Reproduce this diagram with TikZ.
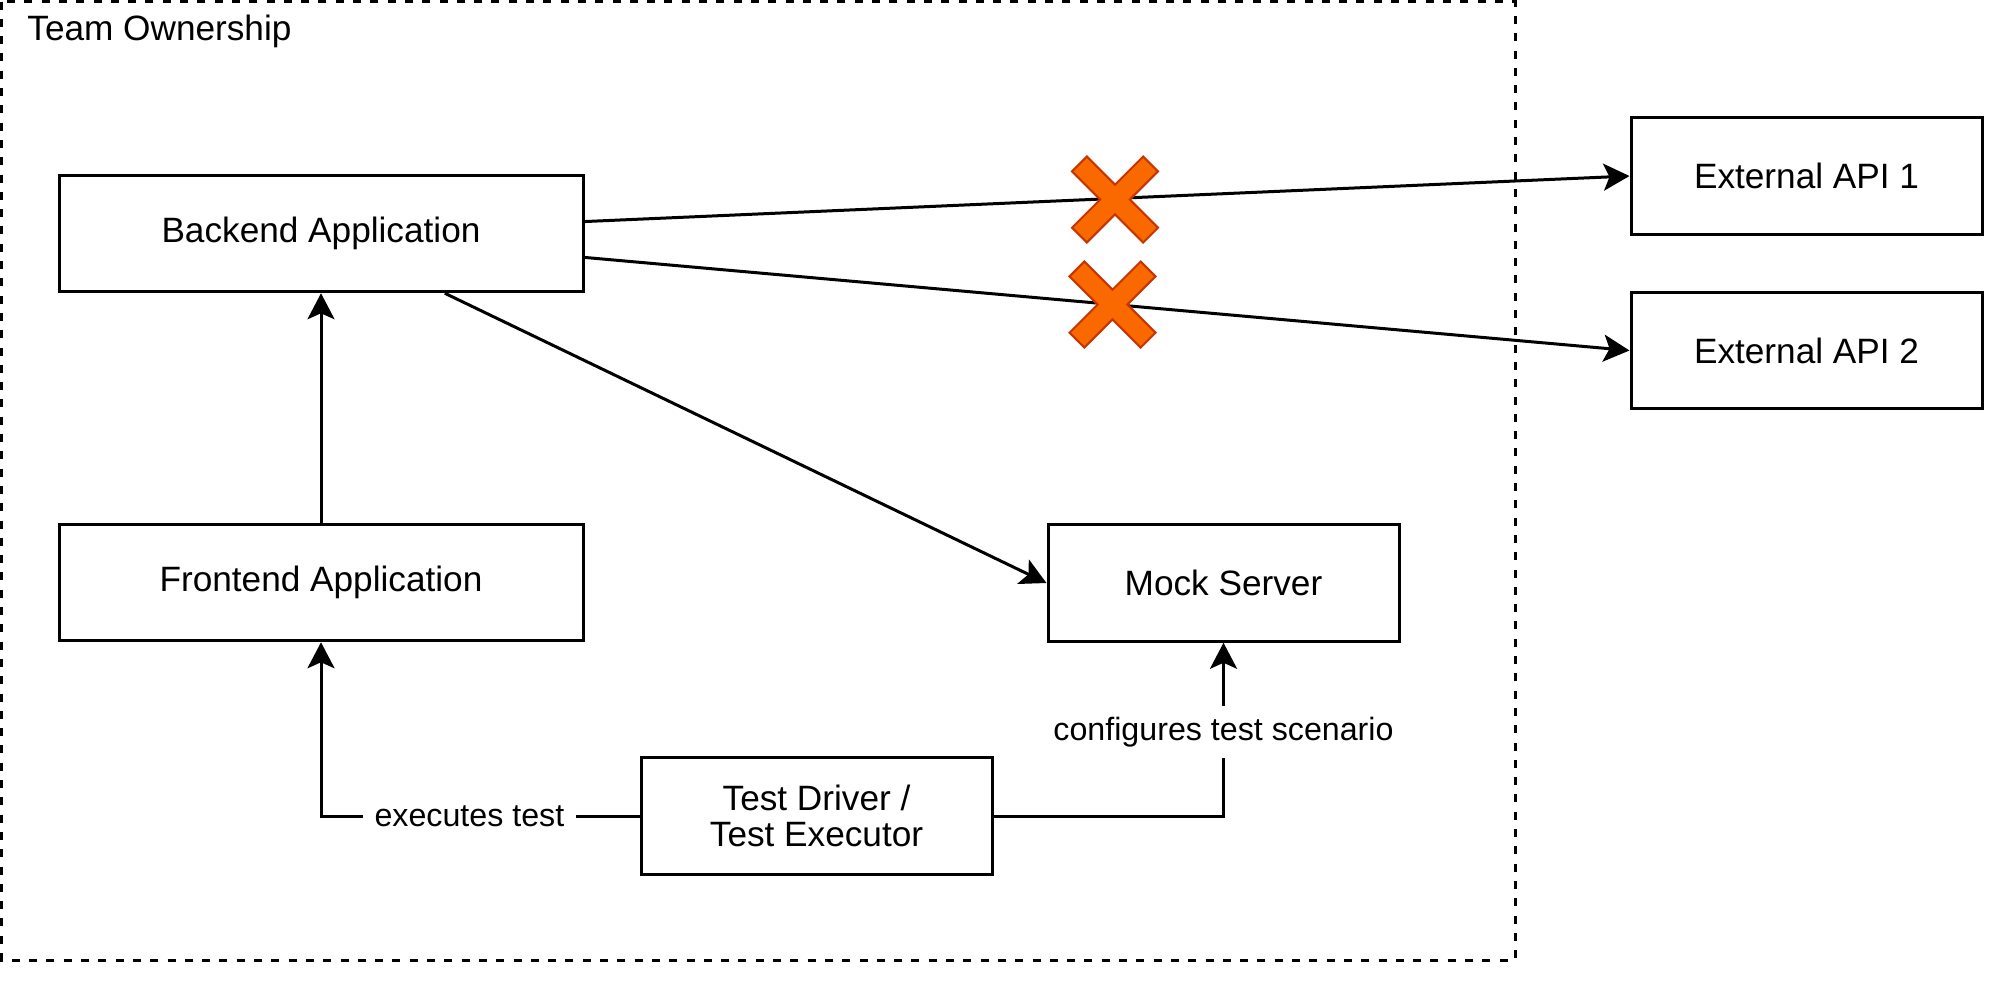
\documentclass[tikz,border=0pt]{standalone}
\usepackage{fontspec}
\setmainfont{Liberation Sans}
\usetikzlibrary{arrows.meta,calc}
\definecolor{xfill}{HTML}{FA6800}
\definecolor{xstroke}{HTML}{C73500}
\begin{document}
\begin{tikzpicture}[x=0.5pt,y=-0.5pt,
  lw/.style={line width=1.5pt},
  box/.style={draw,lw,rectangle,inner sep=0pt,minimum height=58.25pt,font=\fontsize{17.6}{18}\selectfont,align=center},
  widebox/.style={box,minimum width=262pt},
  narrowbox/.style={box,minimum width=175.5pt},
  conn/.style={lw,-{Stealth[length=13pt,width=13.5pt,inset=3pt]}},
  lbl/.style={fill=white,font=\fontsize{16.1}{18}\selectfont,inner xsep=6pt,inner ysep=0pt,minimum height=26pt},
  xmark/.pic={\path[fill=xfill,draw=xstroke,line width=1pt,rotate=45]
     (10.5,50.3) -- (10.5,10.5) -- (50.3,10.5) -- (50.3,-10.5) -- (10.5,-10.5) -- (10.5,-50.3)
     -- (-10.5,-50.3) -- (-10.5,-10.5) -- (-50.3,-10.5) -- (-50.3,10.5) -- (-10.5,10.5) -- (-10.5,50.3) -- cycle;}
]
\useasboundingbox (0,0) rectangle (2000,981);
% team boundary
\draw[lw,dash pattern=on 4pt off 4.65pt] (1.5,1.5) rectangle (1515,960);
\node[anchor=base west,inner sep=0pt,font=\fontsize{17.6}{20}\selectfont] (team) at (27,40) {Team Ownership};

\node[widebox] (be) at (321,233.5) {Backend Application};
\node[widebox] (fe) at (321,582.5) {Frontend Application};
\node[narrowbox] (ms) at (1223.5,583) {Mock Server};
\node[narrowbox] (td) at (816.5,816) {Test Driver /\\Test Executor};
\node[narrowbox] (api1) at (1806.5,176) {External API 1};
\node[narrowbox] (api2) at (1806.5,350.5) {External API 2};

\draw[conn] ($(be.north east)!0.4!(be.south east)$) -- (api1.west);
\draw[conn] ($(be.north east)!0.7!(be.south east)$) -- (api2.west);
\draw[conn] ($(be.south west)!0.735!(be.south east)$) -- (ms.west);
\draw[conn] (fe.north) -- (be.south);
\draw[conn] (td.west) -| node[lbl,pos=0.267] (l1) {executes test} (fe.south);
\draw[conn] (td.east) -| node[lbl,pos=0.743] (l2) {configures test scenario} (ms.south);

\pic at (1115,199.5) {xmark};
\pic at (1112.5,304.5) {xmark};
\end{tikzpicture}
\end{document}
